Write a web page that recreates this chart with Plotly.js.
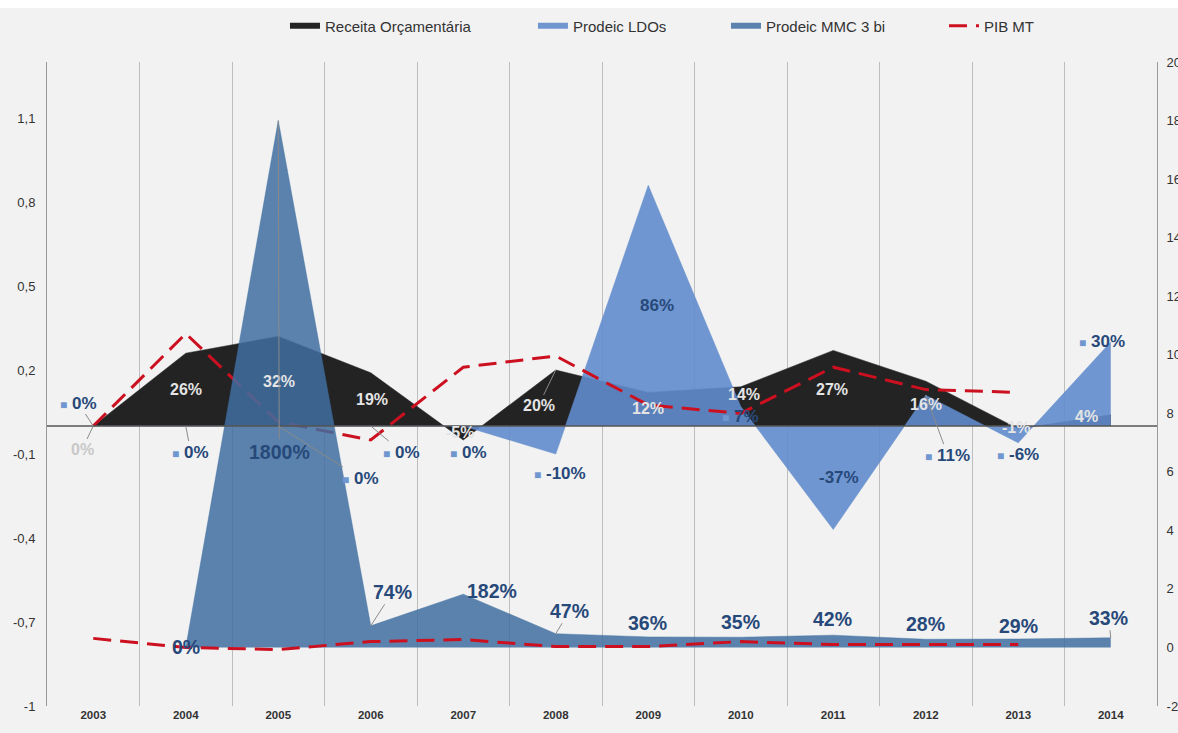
<!DOCTYPE html>
<html><head><meta charset="utf-8">
<script src="https://cdn.plot.ly/plotly-3.0.1.min.js"></script>
<style>html,body{margin:0;padding:0;background:#fff;overflow:hidden}
#chart{position:absolute;left:0;top:8px;width:1178px;height:725px}</style>
</head><body><div id="chart"></div>
<script>
// ---- data ----
const years = ['2003','2004','2005','2006','2007','2008','2009','2010','2011','2012','2013','2014'];
const receita = [0, 0.26, 0.32, 0.19, -0.05, 0.20, 0.12, 0.14, 0.27, 0.16, -0.01, 0.04];
const prodeicLDOs = [0, 0, 0, 0, 0, -0.10, 0.86, 0.07, -0.37, 0.11, -0.06, 0.30];
const prodeicMMC = [null, 0, 18, 0.74, 1.82, 0.47, 0.36, 0.35, 0.42, 0.28, 0.29, 0.33];
const pibUpper = [0, 0.33, 0.015, -0.05, 0.21, 0.25, 0.075, 0.045, 0.21, 0.13, 0.12, null];
const pibLower = [0.31, 0, -0.07, 0.2, 0.27, 0.03, 0.03, 0.2, 0.1, 0.1, 0.1, null];
const leftTickVals = [-1, -0.7, -0.4, -0.1, 0.2, 0.5, 0.8, 1.1];
const leftTickText = ['-1', '-0,7', '-0,4', '-0,1', '0,2', '0,5', '0,8', '1,1'];
const rightTickVals = [-2, 0, 2, 4, 6, 8, 10, 12, 14, 16, 18, 20];
const rightTickText = ['-2', '0', '2', '4', '6', '8', '10', '12', '14', '16', '18', '20'];

// ---- label placement (pixel offsets label vs point; leader flag) ----
const receitaLabelPos = [[-11,23,1],[0,36,0],[1,45,0],[1,27,0],[-3,-8,0],[-17,35,1],[0,16,0],[3,8,0],[-1,39,0],[0,23,0],[-2,-1,0],[-24,2,0]];
const ldoLabelPos = [[-15,-23,1],[5,26,1],[82,52,1],[31,26,1],[5,26,0],[4,19,0],[3,120,0],[0,10,0],[0,-52,0],[22,60,1],[0,12,0],[-9,-1,0]];
const mmcLabelPos = [null,[0,0,0],[1,331,1],[22,-34,1],[29,-3,0],[14,-23,1],[-1,-14,0],[0,-15,0],[-1,-16,0],[0,-15,0],[0,-13,0],[-2,-20,1]];

const FONT = 'Liberation Sans, Arial, Helvetica, sans-serif';
const C_REC = '#232323', C_LDO = '#7096d0', C_MMC = '#5b83ad', C_PIB = '#cc1020', C_NAVY = '#27497a';
const pct = v => Math.round(v * 100) + '%';

function labels(vals, pos, yref, fmt, font) {
  const out = [];
  vals.forEach((v, i) => {
    if (v === null || !pos[i]) return;
    const p = pos[i];
    out.push({
      x: i, y: v, xref: 'x', yref: yref,
      text: '<b>' + fmt(v) + '</b>', showarrow: true, ax: p[0], ay: p[1],
      arrowhead: 0, arrowwidth: 1, standoff: 0,
      arrowcolor: p[2] ? '#8a8a8a' : 'rgba(0,0,0,0)',
      font: Object.assign({}, font)
    });
  });
  return out;
}

const annotations = [].concat(
  labels(receita, receitaLabelPos, 'y', pct, {family: FONT, size: 16, color: '#e4e4e4'}),
  labels(prodeicLDOs, ldoLabelPos, 'y', v => '<span style="font-size:12px;color:' + C_LDO + '">■</span> ' + pct(v), {family: FONT, size: 17, color: C_NAVY}),
  labels(prodeicMMC, mmcLabelPos, 'y2', pct, {family: FONT, size: 19.5, color: C_NAVY})
);
annotations[0].font.color = '#c8c8c8';

const traces = [
  {x: years, y: receita, type: 'scatter', mode: 'lines', fill: 'tozeroy', fillcolor: C_REC,
   line: {color: C_REC, width: 0.5}, showlegend: false, hoverinfo: 'skip'},
  {x: years, y: prodeicLDOs, type: 'scatter', mode: 'lines', fill: 'tozeroy', fillcolor: 'rgba(97,140,204,0.9)',
   line: {color: 'rgba(97,140,204,0.9)', width: 0.5}, showlegend: false, hoverinfo: 'skip'},
  {x: years, y: prodeicMMC, yaxis: 'y2', type: 'scatter', mode: 'lines', fill: 'tozeroy', fillcolor: 'rgba(64,111,161,0.85)',
   line: {color: 'rgba(64,111,161,0.85)', width: 0.5}, showlegend: false, hoverinfo: 'skip'},
  {x: years, y: pibLower, yaxis: 'y2', type: 'scatter', mode: 'lines',
   line: {color: C_PIB, width: 3, dash: '18px,9px'}, showlegend: false, hoverinfo: 'skip'},
  {x: years, y: pibUpper, type: 'scatter', mode: 'lines', name: 'PIB MT', legend: 'legend4',
   line: {color: C_PIB, width: 3, dash: '18px,9px'}, hoverinfo: 'skip'},
  {x: [null], y: [null], type: 'scatter', mode: 'lines', name: 'Receita Orçamentária', legend: 'legend',
   line: {color: C_REC, width: 6}},
  {x: [null], y: [null], type: 'scatter', mode: 'lines', name: 'Prodeic LDOs', legend: 'legend2',
   line: {color: C_LDO, width: 6}},
  {x: [null], y: [null], type: 'scatter', mode: 'lines', name: 'Prodeic MMC 3 bi', legend: 'legend3',
   line: {color: C_MMC, width: 6}}
];

const legFont = {family: FONT, size: 15, color: '#333'};
function leg(x) {
  return {x: x, y: 0.9752, yref: 'container', xanchor: 'left', yanchor: 'middle', orientation: 'h',
          bgcolor: 'rgba(0,0,0,0)', font: legFont, borderwidth: 0};
}

const layout = {
  width: 1178, height: 725,
  margin: {l: 47, r: 21, t: 54, b: 27, pad: 0},
  paper_bgcolor: '#f2f2f2', plot_bgcolor: '#f2f2f2',
  font: {family: FONT, color: '#333'},
  separators: ',.',
  showlegend: true,
  legend: leg(0.2144), legend2: leg(0.4378), legend3: leg(0.6117), legend4: leg(0.8081),
  xaxis: {type: 'category', categoryorder: 'array', categoryarray: years, range: [-0.5, 11.5],
          tickson: 'boundaries', showgrid: true, gridcolor: '#bdbdbd', gridwidth: 1,
          ticks: 'outside', ticklen: 8, tickcolor: 'rgba(0,0,0,0)',
          tickfont: {family: FONT, size: 11.5, color: '#333', weight: 'bold'},
          showline: false, zeroline: false, fixedrange: true},
  yaxis: {range: [-1, 1.3], tickmode: 'array', tickvals: leftTickVals, ticktext: leftTickText,
          showgrid: false, zeroline: false, showline: true, linecolor: '#9a9a9a', linewidth: 1,
          ticks: 'outside', ticklen: 8, tickcolor: 'rgba(0,0,0,0)',
          tickfont: {family: FONT, size: 13, color: '#333'}, fixedrange: true},
  yaxis2: {range: [-2, 20], overlaying: 'y', side: 'right', tickmode: 'array',
           tickvals: rightTickVals, ticktext: rightTickText,
           showgrid: false, zeroline: false, showline: true, linecolor: '#9a9a9a', linewidth: 1,
           ticks: 'outside', ticklen: 6, tickcolor: 'rgba(0,0,0,0)',
           tickfont: {family: FONT, size: 13, color: '#333'}, fixedrange: true},
  shapes: [{type: 'line', xref: 'paper', x0: 0, x1: 1, yref: 'y', y0: 0, y1: 0,
            line: {color: '#555', width: 1.5}, layer: 'above'}],
  annotations: annotations
};

Plotly.newPlot('chart', traces, layout, {displayModeBar: false, staticPlot: true});
</script></body></html>
